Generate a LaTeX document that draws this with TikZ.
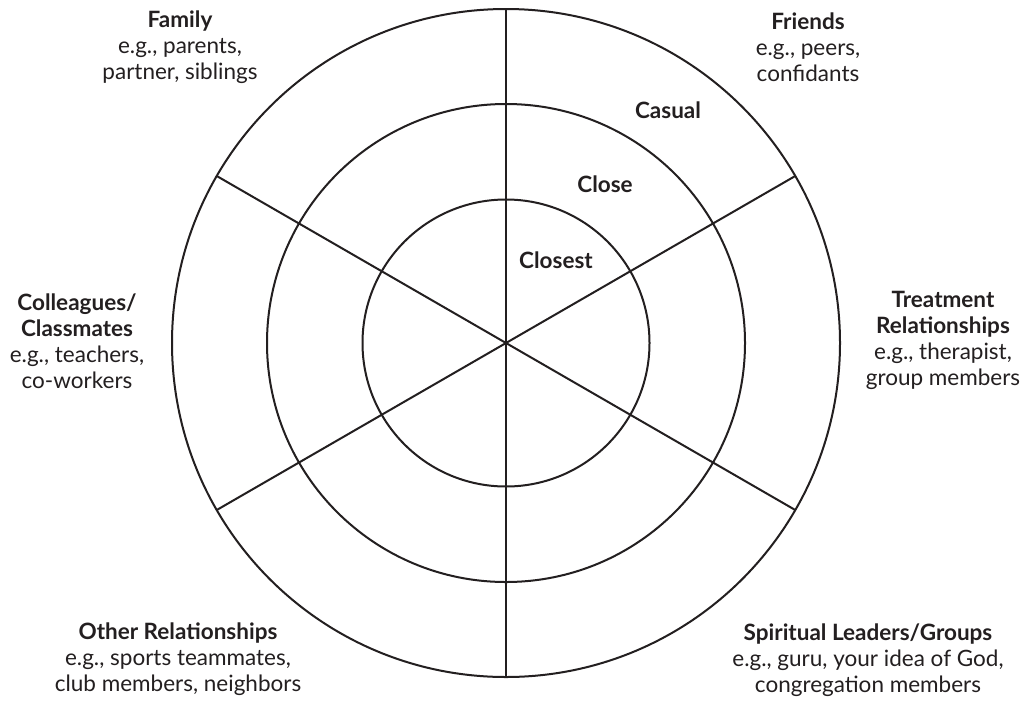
\documentclass[tikz,border=0pt]{standalone}
\usepackage{fontspec}
\setmainfont{Lato}
\usetikzlibrary{calc}
\definecolor{ink}{HTML}{231F20}
\begin{document}
\begin{tikzpicture}[x=1pt,y=-1pt,
  ring/.style={draw=ink,line width=2pt},
  spoke/.style={draw=ink,line width=2pt},
  lbl/.style={text=ink,align=center,inner sep=0pt,font=\fontsize{22.5}{26}\selectfont},
  ringlbl/.style={text=ink,inner sep=0pt,font=\fontsize{22.5}{26}\selectfont\bfseries}]
\useasboundingbox (0,0) rectangle (1022,702);
\fill[white] (0,0) rectangle (1022,702);
\coordinate (c) at (506,343);
\draw[ring] (c) circle[radius=334pt];
\draw[ring] (c) circle[radius=239pt];
\draw[ring] (c) circle[radius=143.5pt];
\coordinate (p90) at ($(c)+(90:334pt)$);
\coordinate (p270) at ($(c)+(270:334pt)$);
\coordinate (p30) at ($(c)+(30:334pt)$);
\coordinate (p210) at ($(c)+(210:334pt)$);
\coordinate (p150) at ($(c)+(150:334pt)$);
\coordinate (p330) at ($(c)+(330:334pt)$);
\draw[spoke] (p90) -- (p270);
\draw[spoke] (p30) -- (p210);
\draw[spoke] (p150) -- (p330);
\node[lbl] (family) at (180,47) {\textbf{Family}\\e.g., parents,\\partner, siblings};
\node[lbl] (friends) at (808,47) {\textbf{Friends}\\e.g., peers,\\confidants};
\node[lbl] (colleagues) at (77,341) {\textbf{Colleagues/}\\\textbf{Classmates}\\e.g., teachers,\\co-workers};
\node[lbl] (treatment) at (943,340) {\textbf{Treatment}\\\textbf{Relationships}\\e.g., therapist,\\group members};
\node[lbl] (other) at (178,659) {\textbf{Other Relationships}\\e.g., sports teammates,\\club members, neighbors};
\node[lbl] (spiritual) at (868,660) {\textbf{Spiritual Leaders/Groups}\\e.g., guru, your idea of God,\\congregation members};
\node[ringlbl] (casual) at (668,110) {Casual};
\node[ringlbl] (close) at (605,184) {Close};
\node[ringlbl] (closest) at (556,260) {Closest};
\end{tikzpicture}
\end{document}
